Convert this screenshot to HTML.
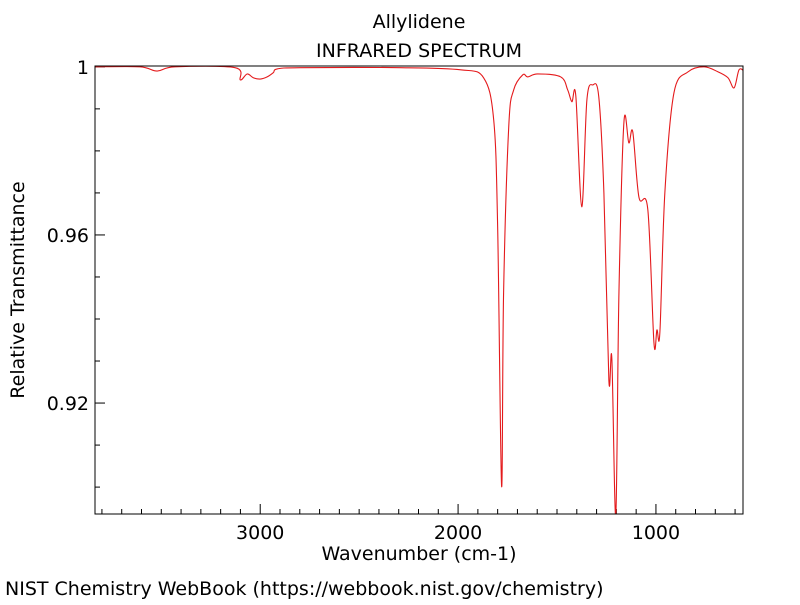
<!DOCTYPE html>
<html><head><meta charset="utf-8"><style>
body{margin:0;background:#fff}
svg text{font-family:"DejaVu Sans","Liberation Sans",sans-serif;fill:#000}
</style></head><body>
<svg id="chart" width="800" height="600" xmlns="http://www.w3.org/2000/svg">
<rect width="800" height="600" fill="#fff"/>
<text x="419" y="28" font-size="19" text-anchor="middle">Allylidene</text>
<text x="419" y="57" font-size="19" text-anchor="middle">INFRARED SPECTRUM</text>
<defs><clipPath id="pc"><rect x="95" y="66" width="648" height="448"/></clipPath></defs>
<g id="ticks"></g>
<path id="line" fill="none" stroke="#e41a1c" stroke-width="1.1" clip-path="url(#pc)"/>
<rect x="95" y="66" width="648" height="448" fill="none" stroke="#000" stroke-width="1"/>
<text x="419" y="560" font-size="19" text-anchor="middle">Wavenumber (cm-1)</text>
<text transform="translate(24,290) rotate(-90)" font-size="19" text-anchor="middle">Relative Transmittance</text>
<text x="5" y="595" font-size="19">NIST Chemistry WebBook (https://webbook.nist.gov/chemistry)</text>
</svg>
<script>
const wavenumbers=[3835,3608,3521,3430,3127,3101,3066,3035,3000,2965,2934,2914,2797,2291,1987,1871,1820,1800,1780,1770,1744,1719,1673,1648,1598,1481,1446,1425,1405,1375,1349,1319,1289,1263,1238,1223,1203,1187,1162,1137,1117,1086,1041,1010,995,980,955,909,838,757,686,636,605,580,555];
const transmittance=[1.0,1.0,0.9990,1.0,0.9998,0.9969,0.9983,0.9974,0.9971,0.9976,0.9986,0.9995,0.9998,0.9998,0.9993,0.9974,0.9874,0.9619,0.9002,0.9462,0.9857,0.9945,0.9981,0.9976,0.9983,0.9976,0.9945,0.9917,0.9931,0.9667,0.9921,0.9957,0.9929,0.9700,0.9255,0.9307,0.8933,0.9462,0.9867,0.9819,0.9845,0.9690,0.9660,0.9343,0.9374,0.9369,0.9700,0.9938,0.9988,1.0,0.9988,0.9974,0.9950,0.9993,0.9990];
const xTickLabels=[3000,2000,1000];
const yTickLabels=[1,0.96,0.92];
const X0=95,X1=743,Y0=66,Y1=514;
const W0=3835,W1=560,T0=1.0002,T1=0.8936;
function xs(w){return X0+(W0-w)/(W0-W1)*(X1-X0);}
function ys(t){return Y0+(T0-t)/(T0-T1)*(Y1-Y0);}
const NS='http://www.w3.org/2000/svg';
const pts=wavenumbers.map((w,i)=>[xs(w),ys(transmittance[i])]);
let d='M'+pts[0][0]+','+pts[0][1];
for(let i=0;i<pts.length-1;i++){
 const p0=pts[Math.max(0,i-1)],p1=pts[i],p2=pts[i+1],p3=pts[Math.min(pts.length-1,i+2)];
 const k=1/6;
 d+=' C'+(p1[0]+(p2[0]-p0[0])*k)+','+(p1[1]+(p2[1]-p0[1])*k)+' '+(p2[0]-(p3[0]-p1[0])*k)+','+(p2[1]-(p3[1]-p1[1])*k)+' '+p2[0]+','+p2[1];
}
document.getElementById('line').setAttribute('d',d);
const g=document.getElementById('ticks');
function ln(x1,y1,x2,y2){const l=document.createElementNS(NS,'line');l.setAttribute('x1',x1);l.setAttribute('y1',y1);l.setAttribute('x2',x2);l.setAttribute('y2',y2);l.setAttribute('stroke','#000');


g.appendChild(l);}
function tx(x,y,s,anc,nm){const t=document.createElementNS(NS,'text');t.setAttribute('x',x);t.setAttribute('y',y);t.setAttribute('font-size','19');t.setAttribute('text-anchor',anc);t.textContent=s;


g.appendChild(t);}
for(let w=600;w<=3800;w+=100){const x=xs(w);ln(x,Y1,x,Y1-(w%1000===0?10:5));}
xTickLabels.forEach(w=>tx(xs(w),Y1+25,String(w),'middle','x-tick-label'));
for(let i=0;i<=10;i++){const t=1-i*0.01;const y=ys(t);const major=(i%4===0);ln(X0,y,X0+(major?10:5),y);}
yTickLabels.forEach(t=>tx(X0-6,ys(t)+7,String(t),'end','y-tick-label'));
</script>
</body></html>
